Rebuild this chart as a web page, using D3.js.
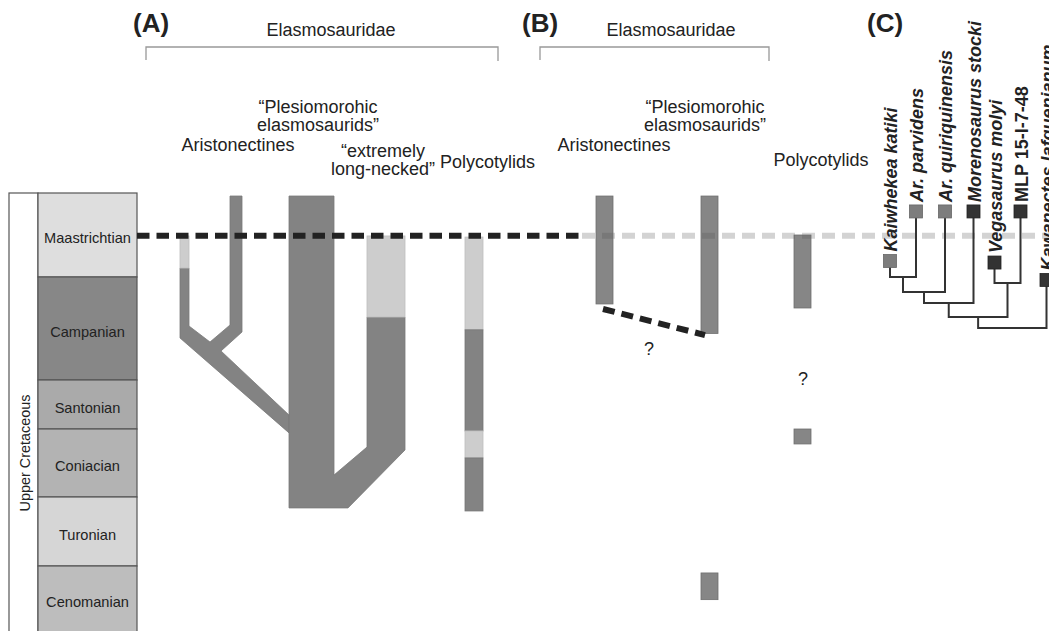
<!DOCTYPE html>
<html><head><meta charset="utf-8">
<script src="https://cdn.jsdelivr.net/npm/d3@7"></script>
<style>
body{margin:0;background:#fff}
svg{display:block}
text{font-family:"Liberation Sans",Arial,Helvetica,sans-serif;fill:#222}
</style>
</head><body>
<svg id="chart" width="1049" height="631"></svg>
<script>
// ---------- DATA ----------
// Stratigraphic stages (Ma)
const stages     = ["Maastrichtian","Campanian","Santonian","Coniacian","Turonian","Cenomanian"];
const stageTop   = [66.0, 72.1, 83.6, 86.3, 89.8, 93.9];
const stageBase  = [72.1, 83.6, 86.3, 89.8, 93.9, 100.5];
const epochName  = "Upper Cretaceous";
const horizonAge = 69.1;           // dashed horizon (Ma)

// Panel A: clade outlines, vertices as [offset, Ma]
const aristonectineClade = [[93,66.22],[105,66.22],[105,78.24],[84,80.36],[152,85.53],[152,86.5],
  [43,78.91],[43,71.45],[52,71.45],[52,77.57],[73,79.36],[93,77.46]];
const plesiomorphicClade = [[152,66.22],[197,66.22],[197,88.67],[230,87.23],[230,76.57],[268,76.57],
  [268,87.38],[211,90.45],[152,90.45]];
// Panel A: range segments {x0,x1 offsets, top, base (Ma), tone}
const aRanges = [
  {x0:43,  x1:52,  top:69.12, base:71.45, tone:"light"},
  {x0:230, x1:268, top:69.12, base:76.57, tone:"light"},
  {x0:328, x1:346, top:69.2,  base:78.0,  tone:"light"},
  {x0:328, x1:346, top:78.0,  base:86.4,  tone:"dark"},
  {x0:328, x1:346, top:86.4,  base:87.79, tone:"light"},
  {x0:328, x1:346, top:87.79, base:90.63, tone:"dark"}
];
// Panel B: observed ranges
const bRanges = [
  {x0:459, x1:476, top:66.22, base:75.11},
  {x0:564, x1:581, top:66.22, base:78.4},
  {x0:564, x1:581, top:94.52, base:96.9},
  {x0:657, x1:674, top:69.05, base:75.56},
  {x0:657, x1:674, top:86.3,  base:87.07}
];
const bGhostLink = [[466,75.67],[568,78.58]];
const bQuestion  = [[512,80.81],[666,83.88]];

// Panel C: cladogram tips
const tips = [
  {name:"Kaiwhekea katiki",        x:753,   age:70.94, grp:"a", italic:true},
  {name:"Ar. parvidens",           x:779,   age:67.34, grp:"a", italic:true},
  {name:"Ar. quiriquinensis",      x:808,   age:67.34, grp:"a", italic:true},
  {name:"Morenosaurus stocki",     x:836.5, age:67.34, grp:"b", italic:true},
  {name:"Vegasaurus molyi",        x:857.5, age:71.05, grp:"b", italic:true},
  {name:"MLP 15-I-7-48",           x:883.5, age:67.34, grp:"b", italic:false},
  {name:"Kawanectes lafquenianum", x:909.5, age:72.43, grp:"b", italic:true}
];
const cladeTree = {age:77.8, children:[
  {age:76.57, children:[
    {age:75.0, children:[
      {age:73.77, children:[
        {age:72.1, children:[{name:"Kaiwhekea katiki"},{name:"Ar. parvidens"}]},
        {name:"Ar. quiriquinensis"}]},
      {name:"Morenosaurus stocki"}]},
    {age:72.77, children:[{name:"Vegasaurus molyi"},{name:"MLP 15-I-7-48"}]}]},
  {name:"Kawanectes lafquenianum"}]};

// Text labels
const panelTitles = [{t:"(A)", x:-4},{t:"(B)", x:385},{t:"(C)", x:730}];
const brackets    = [{label:"Elasmosauridae", x0:9, x1:361, lx:194},{label:"Elasmosauridae", x0:403, x1:632, lx:534}];
const groupLabels = [
  {lines:["“Plesiomorohic","elasmosaurids”"], x:181, y:113, anchor:"middle"},
  {lines:["Aristonectines"], x:101, y:151, anchor:"middle"},
  {lines:["“extremely","long-necked”"], x:246, y:157, anchor:"middle"},
  {lines:["Polycotylids"], x:303, y:168, anchor:"start"},
  {lines:["“Plesiomorohic","elasmosaurids”"], x:568, y:113, anchor:"middle"},
  {lines:["Aristonectines"], x:477, y:151, anchor:"middle"},
  {lines:["Polycotylids"], x:684, y:166, anchor:"middle"}
];

// ---------- STYLE ----------
const stageColors = ["#dedede","#878787","#aaaaaa","#b3b3b3","#d6d6d6","#bdbdbd"];
const dark = "#838383", light = "#cdcdcd";

// ---------- SCALES ----------
const W = 1049, H = 631;
const svg = d3.select("#chart");
const y = d3.scaleLinear().domain([stageTop[0], ...stageBase]).range([193,277,380,429,497,566,640]);
const x = d3.scaleLinear().domain([0, 912]).range([137, 1049]);
const scaleLeft = 38, epochLeft = 9;

// ---------- TIME SCALE ----------
const ts = svg.append("g");
ts.append("rect").attr("x",epochLeft).attr("y",y(stageTop[0])).attr("width",scaleLeft-epochLeft)
  .attr("height",y(stageBase[5])-y(stageTop[0])).attr("fill","#fff").attr("stroke","#555").attr("stroke-width",1.2);
stages.forEach((s,i)=>{
  const t=y(stageTop[i]), b=y(stageBase[i]);
  ts.append("rect").attr("x",scaleLeft).attr("y",t).attr("width",x(0)-scaleLeft).attr("height",b-t)
    .attr("fill",stageColors[i]).attr("stroke","#555").attr("stroke-width",1.2);
  const c=(t+Math.min(b,H))/2;
  ts.append("text").attr("x",(scaleLeft+x(0))/2).attr("y",c+3).attr("dominant-baseline","central")
    .attr("text-anchor","middle").attr("font-size",14.6).text(s);
});
ts.append("text").attr("transform",`translate(${(epochLeft+scaleLeft)/2+1},453) rotate(-90)`)
  .attr("text-anchor","middle").attr("dy","0.35em").attr("font-size",14.4).text(epochName);

// ---------- PANEL A ----------
const poly = d3.line().x(d=>x(d[0])).y(d=>y(d[1])).curve(d3.curveLinearClosed);
const gA = svg.append("g");
[aristonectineClade, plesiomorphicClade].forEach(p=>{
  gA.append("path").attr("d",poly(p)).attr("fill",dark).attr("stroke","#7a7a7a").attr("stroke-width",0.8);
});
gA.selectAll("rect").data(aRanges).join("rect")
  .attr("x",d=>x(d.x0)).attr("width",d=>x(d.x1)-x(d.x0))
  .attr("y",d=>y(d.top)).attr("height",d=>y(d.base)-y(d.top))
  .attr("fill",d=>d.tone==="light"?light:dark).attr("stroke",d=>d.tone==="light"?"#bdbdbd":"#777").attr("stroke-width",0.8);

// ---------- HORIZON ----------
const split = 443;
svg.append("line").attr("x1",x(split+2)).attr("x2",x(912)).attr("y1",y(horizonAge)).attr("y2",y(horizonAge))
  .attr("stroke","#d3d3d3").attr("stroke-width",6).attr("stroke-dasharray","13 7");
svg.append("line").attr("x1",x(0)).attr("x2",x(split)).attr("y1",y(horizonAge)).attr("y2",y(horizonAge))
  .attr("stroke","#222").attr("stroke-width",6).attr("stroke-dasharray","12.5 7");

// ---------- PANEL B ----------
const gB = svg.append("g");
gB.selectAll("rect").data(bRanges).join("rect")
  .attr("x",d=>x(d.x0)).attr("width",d=>x(d.x1)-x(d.x0))
  .attr("y",d=>y(d.top)).attr("height",d=>y(d.base)-y(d.top))
  .attr("fill","#4d4d4d").attr("fill-opacity",0.68).attr("stroke","#6f6f6f").attr("stroke-width",0.8);
gB.append("line").attr("x1",x(bGhostLink[0][0])).attr("y1",y(bGhostLink[0][1]))
  .attr("x2",x(bGhostLink[1][0])).attr("y2",y(bGhostLink[1][1]))
  .attr("stroke","#222").attr("stroke-width",6).attr("stroke-dasharray","12 7");
gB.selectAll("text.q").data(bQuestion).join("text").attr("class","q")
  .attr("x",d=>x(d[0])).attr("y",d=>y(d[1])).attr("text-anchor","middle").attr("font-size",18).text("?");

// ---------- PANEL C ----------
const gC = svg.append("g");
const tipMap = new Map(tips.map(t=>[t.name,t]));
const root = d3.hierarchy(cladeTree);
root.eachAfter(n=>{
  if(n.children){ n.px=(n.children[0].px+n.children[n.children.length-1].px)/2; n.age=n.data.age; }
  else { const t=tipMap.get(n.data.name); n.px=t.x; n.age=t.age; }
});
let pth = d3.path();
root.each(n=>{
  if(n.parent){ pth.moveTo(x(n.px),y(n.age)); pth.lineTo(x(n.px),y(n.parent.age)); }
  if(n.children){ pth.moveTo(x(n.children[0].px)-1,y(n.age)); pth.lineTo(x(n.children[n.children.length-1].px)+1,y(n.age)); }
});
gC.append("path").attr("d",pth.toString()).attr("fill","none").attr("stroke","#333").attr("stroke-width",2);
const sq = 13;
gC.selectAll("rect").data(tips).join("rect")
  .attr("x",d=>x(d.x)-sq/2).attr("y",d=>y(d.age)-sq/2).attr("width",sq).attr("height",sq)
  .attr("fill",d=>d.grp==="a"?"#7d7d7d":"#333").attr("stroke",d=>d.grp==="a"?"#666":"#222").attr("stroke-width",0.8);
gC.selectAll("text").data(tips).join("text")
  .attr("transform",d=>`translate(${x(d.x)+1},${y(d.age)-sq/2-3}) rotate(-90)`)
  .attr("dy","0.35em").attr("font-size",18).attr("font-weight","bold")
  .attr("font-style",d=>d.italic?"italic":"normal").text(d=>d.name);

// ---------- LABELS ----------
panelTitles.forEach(p=>{
  svg.append("text").attr("x",x(p.x)).attr("y",32).attr("font-size",26).attr("font-weight","bold").text(p.t);
});
brackets.forEach(b=>{
  svg.append("path").attr("d",`M${x(b.x0)},60V47H${x(b.x1)}V61`).attr("fill","none").attr("stroke","#999").attr("stroke-width",1.3);
  svg.append("text").attr("x",x(b.lx)).attr("y",36).attr("text-anchor","middle").attr("font-size",18).text(b.label);
});
groupLabels.forEach(l=>{
  const t=svg.append("text").attr("text-anchor",l.anchor).attr("font-size",18);
  l.lines.forEach((s,i)=>t.append("tspan").attr("x",x(l.x)).attr("y",l.y+i*18).text(s));
});
</script>
</body></html>
